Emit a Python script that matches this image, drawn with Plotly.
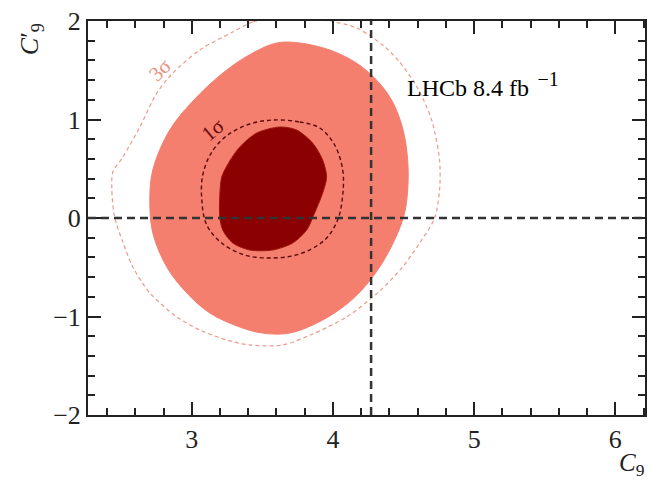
import plotly.graph_objects as go

# ---- data ----
# outer filled region (salmon)
outer_c9 = [3.602, 3.764, 3.977, 4.154, 4.295, 4.415, 4.493, 4.529, 4.529, 4.500, 4.401, 4.281, 4.132,
            3.927, 3.694, 3.500, 3.340, 3.127, 2.965, 2.823, 2.724, 2.703, 2.724, 2.844, 3.035, 3.248, 3.432, 3.602]
outer_c9p = [1.777, 1.777, 1.706, 1.584, 1.421, 1.198, 0.914, 0.589, 0.284, 0.010, -0.325, -0.599, -0.832,
             -1.036, -1.168, -1.168, -1.107, -0.964, -0.761, -0.497, -0.152, 0.183, 0.487, 0.893, 1.228, 1.503,
             1.675, 1.777]

# inner filled region (dark red)
inner_c9 = [3.623, 3.460, 3.340, 3.269, 3.212, 3.198, 3.198, 3.219, 3.290, 3.410, 3.573, 3.715, 3.814,
            3.870, 3.927, 3.955, 3.927, 3.856, 3.743, 3.623]
inner_c9p = [0.924, 0.863, 0.721, 0.579, 0.416, 0.213, 0.010, -0.122, -0.254, -0.325, -0.325, -0.254, -0.122,
             0.051, 0.254, 0.416, 0.589, 0.761, 0.893, 0.924]

# 1 sigma dashed contour
s1_c9 = [3.573, 3.764, 3.906, 4.012, 4.069, 4.069, 4.033, 3.941, 3.764, 3.573, 3.375, 3.212, 3.106,
         3.071, 3.078, 3.142, 3.255, 3.410, 3.573]
s1_c9p = [0.995, 0.975, 0.914, 0.741, 0.487, 0.234, -0.020, -0.223, -0.365, -0.406, -0.376, -0.254, -0.071,
          0.183, 0.437, 0.670, 0.843, 0.954, 0.995]

# 3 sigma dashed contour
s3_c9 = [3.587, 3.432, 3.290, 3.057, 2.866, 2.752, 2.632, 2.512, 2.441, 2.434, 2.448, 2.469, 2.512, 2.582,
         2.703, 2.894, 3.057, 3.248, 3.410, 3.644, 3.856, 4.097, 4.331, 4.493, 4.614, 4.720, 4.755, 4.755,
         4.699, 4.599, 4.472, 4.352, 4.168, 3.977, 3.764, 3.587]
s3_c9p = [2.02, 1.990, 1.888, 1.706, 1.472, 1.269, 0.924, 0.619, 0.467, 0.284, 0.051, -0.071, -0.244, -0.497,
          -0.761, -1.005, -1.137, -1.239, -1.289, -1.289, -1.178, -1.005, -0.741, -0.497, -0.254, 0.0, 0.284,
          0.589, 0.995, 1.320, 1.584, 1.756, 1.929, 2.0, 2.02, 2.02]

sm_c9 = 4.27      # reference (SM) value of C9
sm_c9p = 0.0      # reference (SM) value of C9'

x_range = [2.265, 6.21]
y_range = [-2, 2]

SALMON = "#F47F6F"
DARK = "#8B0000"
SERIF = "Liberation Serif, Times New Roman, serif"
NB = "\u00a0"

fig = go.Figure()
fig.add_trace(go.Scatter(x=outer_c9, y=outer_c9p, mode="lines", fill="toself", fillcolor=SALMON,
                         line=dict(color=SALMON, width=1, shape="spline", smoothing=1.0), hoverinfo="skip"))
fig.add_trace(go.Scatter(x=inner_c9, y=inner_c9p, mode="lines", fill="toself", fillcolor=DARK,
                         line=dict(color="#A01810", width=1, shape="spline", smoothing=0.8), hoverinfo="skip"))
fig.add_trace(go.Scatter(x=s3_c9, y=s3_c9p, mode="lines",
                         line=dict(color="#EC9A8C", width=1.2, dash="4px,3px", shape="spline", smoothing=0.8),
                         hoverinfo="skip"))
fig.add_trace(go.Scatter(x=s1_c9, y=s1_c9p, mode="lines",
                         line=dict(color="#5A0A0A", width=1.4, dash="4px,3px", shape="spline", smoothing=1.0),
                         hoverinfo="skip"))

# reference lines
fig.add_shape(type="line", xref="x", yref="paper", x0=sm_c9, x1=sm_c9, y0=0, y1=1,
              line=dict(color="#333333", width=2.5, dash="8px,5px"))
fig.add_shape(type="line", xref="paper", yref="y", x0=0, x1=1, y0=sm_c9p, y1=sm_c9p,
              line=dict(color="#333333", width=2.5, dash="8px,5px"))

fig.add_annotation(x=2.774, y=1.503, text="3σ", showarrow=False, textangle=-45,
                   font=dict(family=SERIF, size=21, color="#E8917F"))
fig.add_annotation(x=3.149, y=0.893, text="1σ", showarrow=False, textangle=-40,
                   font=dict(family=SERIF, size=21, color="#6A0A0A"))
fig.add_annotation(x=4.51, y=1.36, xanchor="left", yanchor="middle",
                   text="LHCb 8.4" + NB + "fb<sup>" + NB + NB + "<span style='font-size:20px'>−1</span></sup>",
                   showarrow=False, font=dict(family=SERIF, size=24, color="black"))

# axis titles
fig.add_annotation(xref="paper", yref="paper", x=1.004, y=-0.082, xanchor="right", yanchor="top",
                   text="<i>C</i><sub>9</sub>", showarrow=False, font=dict(family=SERIF, size=25, color="#222"))
fig.add_annotation(xref="paper", yref="paper", x=-0.102, y=1.0, xanchor="center", yanchor="top",
                   text="<i>C</i>′<sub>9</sub>", textangle=-90, showarrow=False,
                   font=dict(family=SERIF, size=26, color="#222"))

axis_common = dict(showgrid=False, zeroline=False, showline=True, linecolor="#222", linewidth=2,
                   mirror="allticks", ticks="inside", ticklen=13, tickwidth=2, tickcolor="#222",
                   tickmode="linear", tick0=0, dtick=1,
                   minor=dict(ticks="inside", ticklen=7, tickwidth=1.5, tickcolor="#222", dtick=0.2, tick0=0),
                   tickfont=dict(family=SERIF, size=26, color="#222"))

fig.update_xaxes(range=x_range, **axis_common)
fig.update_yaxes(range=y_range, **axis_common)

fig.update_layout(width=652, height=481, margin=dict(l=88, r=7, t=21, b=66, autoexpand=False),
                  plot_bgcolor="white", paper_bgcolor="white", showlegend=False,
                  separators=".−")

fig.write_html("out.html", config={"displayModeBar": False},
               post_script="document.body.style.margin='0';")
